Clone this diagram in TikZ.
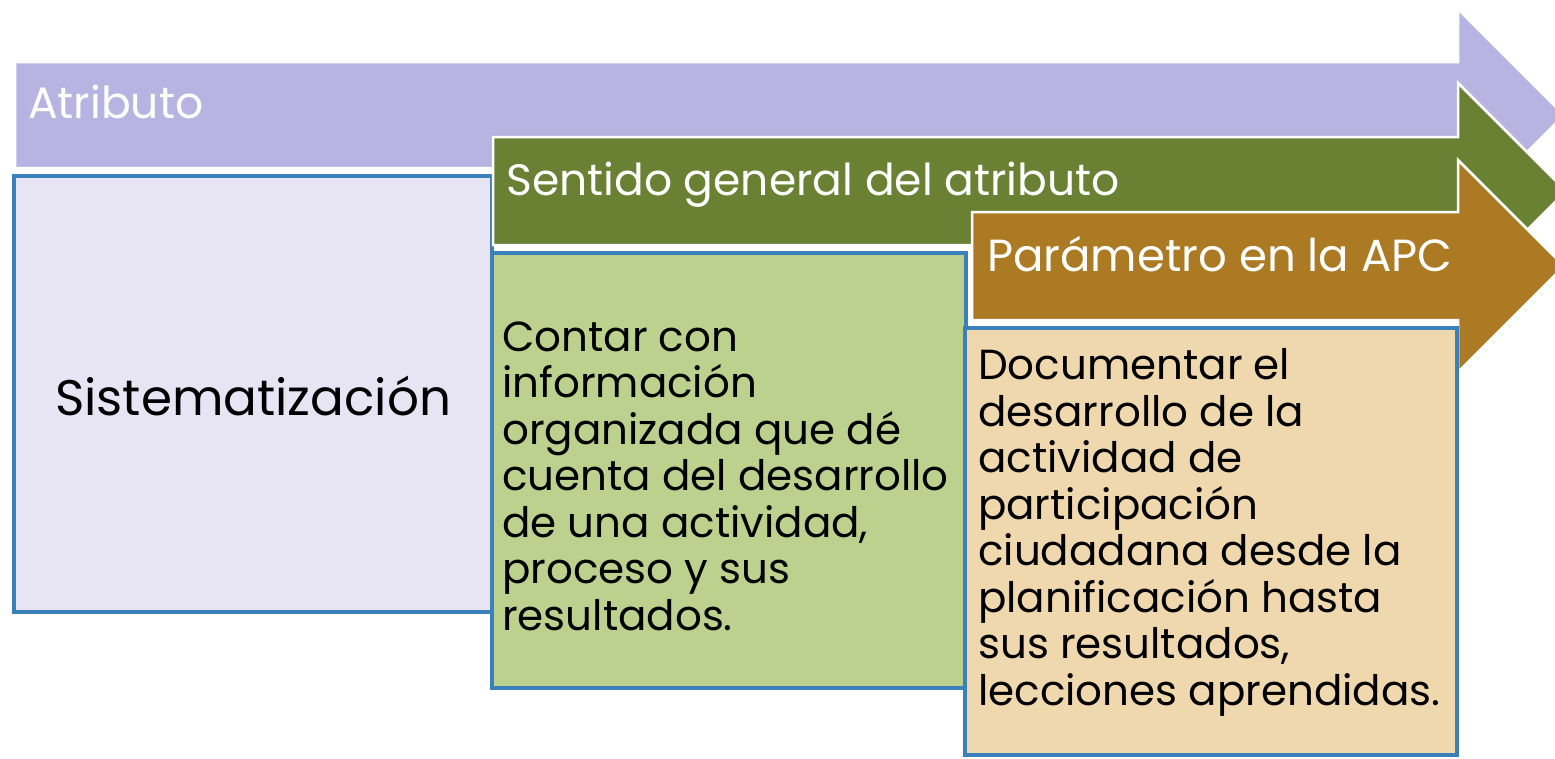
\documentclass[tikz,border=0pt]{standalone}
\usepackage{fontspec}
\setmainfont{Poppins}
\usetikzlibrary{positioning}

\definecolor{lila}{HTML}{B9B3E1}
\definecolor{lilaclaro}{HTML}{E7E4F4}
\definecolor{oliva}{HTML}{6A8133}
\definecolor{olivaclaro}{HTML}{BDD18E}
\definecolor{ocre}{HTML}{AD7A24}
\definecolor{ocreclaro}{HTML}{EFD8AE}
\definecolor{borde}{HTML}{3A80BA}

\begin{document}
\begin{tikzpicture}[x=1pt, y=-1pt,
	flecha/.style={draw=white, line width=2.5pt, line join=miter},
	caja/.style={draw=borde, line width=4.5pt},
	titulo/.style={anchor=base west, inner sep=0pt, text=white, font=\fontsize{44}{50}\selectfont},
	texto/.style={anchor=base west, inner sep=0pt, align=left, font=\fontsize{42}{46.5}\selectfont}]

	\useasboundingbox (0,0) rectangle (1555,758);
	\clip (0,0) rectangle (1555,758);

	% flecha y caja del atributo
	\draw[flecha, fill=lila] (15,62) -- (1458,62) -- (1458,9) -- (1564,115) -- (1458,221) -- (1458,168) -- (15,168) -- cycle;
	\draw[caja, fill=lilaclaro] (14,176) rectangle (492,612);

	% sentido general
	\draw[flecha, fill=oliva] (493,137) -- (1458,137) -- (1458,83) -- (1566,191) -- (1458,299) -- (1458,245) -- (493,245) -- cycle;
	\draw[caja, fill=olivaclaro] (492,253) rectangle (966,688);

	% parametro
	\draw[flecha, fill=ocre] (972,212) -- (1458,212) -- (1458,160) -- (1564,266) -- (1458,372) -- (1458,320) -- (972,320) -- cycle;
	\draw[caja, fill=ocreclaro] (965,328) rectangle (1457,755);

	\node[titulo] (atributo) at (28,118) {Atributo};
	\node[titulo] (sentido) at (506,195) {Sentido general del atributo};
	\node[titulo, font=\fontsize{45}{50}\selectfont] (parametro) at (987,271) {Parámetro en la APC};

	\node[anchor=base west, inner sep=0pt, font=\fontsize{50}{60}\selectfont] (sistema) at (55,415) {Sistematización};

	% base = ultima linea
	\node[texto] (contar) at (502,630) {Contar con\\información\\organizada que dé\\cuenta del desarrollo\\de una actividad,\\proceso y sus\\resultados.};
	\node[texto] (documentar) at (978,705) {Documentar el\\desarrollo de la\\actividad de\\participación\\ciudadana desde la\\planificación hasta\\sus resultados,\\lecciones aprendidas.};

\end{tikzpicture}
\end{document}
